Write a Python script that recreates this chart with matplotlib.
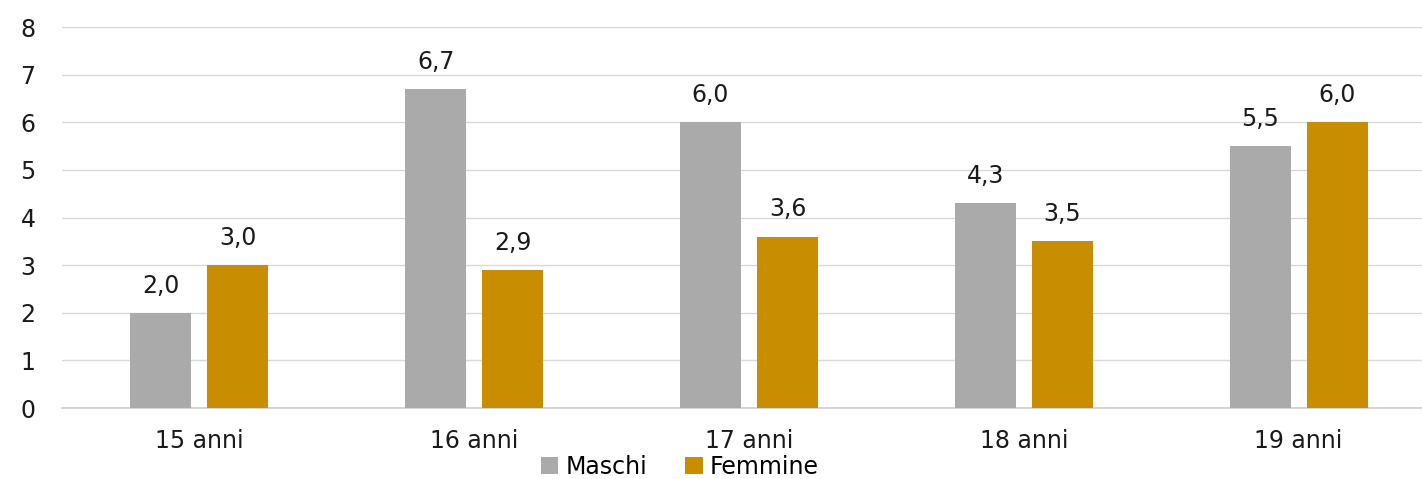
import matplotlib.pyplot as plt
import numpy as np

categories = ["15 anni", "16 anni", "17 anni", "18 anni", "19 anni"]
maschi = [2.0, 6.7, 6.0, 4.3, 5.5]
femmine = [3.0, 2.9, 3.6, 3.5, 6.0]
yticks = [0, 1, 2, 3, 4, 5, 6, 7, 8]

plt.rcParams["font.family"] = ["DejaVu Sans"]

fig = plt.figure(figsize=(14.22, 4.79), dpi=100)
ax = fig.add_axes([0.0436, 0.148, 0.9662, 0.7956])

x = np.arange(len(categories))
w = 0.222
off = 0.14
b1 = ax.bar(x - off, maschi, w, color="#a9aaa9", label="Maschi", zorder=3)
b2 = ax.bar(x + off, femmine, w, color="#c88d00", label="Femmine", zorder=3)

for bars, vals in [(b1, maschi), (b2, femmine)]:
    for rect, v in zip(bars, vals):
        ax.annotate(
            f"{v:.1f}".replace(".", ","),
            (rect.get_x() + rect.get_width() / 2, v),
            xytext=(0, 11),
            textcoords="offset points",
            ha="center",
            va="bottom",
            fontsize=17,
            color="#1a1a1a",
        )

ax.set_xlim(-0.5, len(categories) - 0.5)
ax.set_ylim(0, 8)
ax.set_yticks(yticks)
ax.set_xticks(x)
ax.set_xticklabels(categories)
ax.grid(axis="y", color="#d9d9d9", linewidth=1.0, zorder=0)
for s in ["top", "right", "left"]:
    ax.spines[s].set_visible(False)
ax.spines["bottom"].set_color("#d0d0d0")
ax.spines["bottom"].set_linewidth(1.3)
ax.tick_params(axis="both", length=0, labelsize=17, colors="#1a1a1a")
ax.tick_params(axis="y", pad=19)
ax.tick_params(axis="x", pad=15)

fig.legend(
    handles=[b1, b2],
    loc="center",
    bbox_to_anchor=(0.478, 0.025),
    ncol=2,
    frameon=False,
    fontsize=17,
    handlelength=0.75,
    handleheight=0.75,
    handletextpad=0.3,
    columnspacing=1.6,
)

fig.savefig("out.png", dpi=100)
